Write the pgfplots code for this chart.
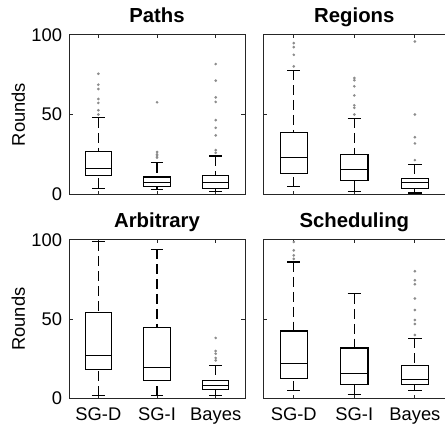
\documentclass[border=0pt]{standalone}
\usepackage{pgfplots}
\pgfplotsset{compat=1.18}
\usepgfplotslibrary{statistics}
\usepackage{fontspec}
\setmainfont{Liberation Sans}

\pgfplotsset{
  rbox/.style={
    scale only axis, height=80pt,
    xmin=0.5, xmax=3.5, ymin=0, ymax=100,
    xtick={1,2,3}, ytick={0,50,100},
    tick align=inside, major tick length=1.8pt,
    axis line style={black!85, line width=0.5pt},
    every tick/.style={black!85, line width=0.5pt},
    tick label style={font=\fontsize{9.2}{11}\selectfont},
    /pgf/number format/assume math mode=true,
    title style={anchor=base, font=\fontsize{10.2}{12}\selectfont\bfseries},
    xticklabel style={anchor=base, yshift=-11.2pt},
    yticklabel style={inner sep=0pt, xshift=-3.3pt},
    ylabel style={font=\fontsize{9.2}{11}\selectfont, at={(axis description cs:-0.2507,0.5)}, anchor=base},
    boxplot/draw direction=y,
    boxplot/draw/lower whisker/.code={
      \draw[dash pattern=on 5pt off 2.5pt]
        (boxplot cs:\pgfplotsboxplotvalue{lower whisker},0) --
        (boxplot cs:\pgfplotsboxplotvalue{lower quartile},0);
      \draw (boxplot whisker cs:\pgfplotsboxplotvalue{lower whisker},0) --
        (boxplot whisker cs:\pgfplotsboxplotvalue{lower whisker},1);
    },
    boxplot/draw/upper whisker/.code={
      \draw[dash pattern=on 5pt off 2.5pt]
        (boxplot cs:\pgfplotsboxplotvalue{upper whisker},0) --
        (boxplot cs:\pgfplotsboxplotvalue{upper quartile},0);
      \draw (boxplot whisker cs:\pgfplotsboxplotvalue{upper whisker},0) --
        (boxplot whisker cs:\pgfplotsboxplotvalue{upper whisker},1);
    },
    boxplot/box extend=0.45,
    boxplot/whisker extend=0.22,
  },
  rside/.style={axis y line*=left, yticklabels={}},
  bx/.style={black, line width=0.55pt, mark=*, mark size=0.35pt,
    mark options={draw=black!45, fill=black!45}, boxplot prepared={#1}},
}

\begin{document}
\begin{tikzpicture}
\path (0,0) rectangle (223.5pt,213.5pt);

% Paths
\begin{axis}[rbox, at={(34.65pt,116pt)}, anchor=south west, width=88.35pt,
  title={Paths}, ylabel={Rounds}, xticklabels={}]
\addplot[bx={draw position=1, lower whisker=3.75, lower quartile=11.7, median=16, upper quartile=26.7, upper whisker=47.9}]
  coordinates {(1,50) (1,52.7) (1,57.3) (1,59.8) (1,66) (1,68.75) (1,75.6)};
\addplot[bx={draw position=2, lower whisker=2.7, lower quartile=4.8, median=7.5, upper quartile=10.8, upper whisker=19.8}]
  coordinates {(2,23) (2,24) (2,25) (2,26.5) (2,57.7)};
\addplot[bx={draw position=3, lower whisker=1.7, lower quartile=3.75, median=7.1, upper quartile=11.7, upper whisker=24}]
  coordinates {(3,26) (3,27.7) (3,36.9) (3,41.7) (3,46.5) (3,57.9) (3,60.8) (3,71.25) (3,81.7)};
\end{axis}

% Regions
\begin{axis}[rbox, rside, at={(132.25pt,116pt)}, anchor=south west, width=91.2pt,
  title={Regions}, xticklabels={}]
\addplot[bx={draw position=1, lower whisker=4.8, lower quartile=12.9, median=22.9, upper quartile=38.75, upper whisker=77.9}]
  coordinates {(1,80.2) (1,87.5) (1,92.3) (1,94.8)};
\addplot[bx={draw position=2, lower whisker=1.9, lower quartile=8.5, median=15.8, upper quartile=24.8, upper whisker=47.8}]
  coordinates {(2,50) (2,54.2) (2,55.8) (2,62) (2,67.7) (2,71.5) (2,72.9)};
\addplot[bx={draw position=3, lower whisker=0.8, lower quartile=3.75, median=7.1, upper quartile=9.8, upper whisker=18.9}]
  coordinates {(3,21.4) (3,31.9) (3,35.8) (3,50) (3,95.8)};
\end{axis}

% Arbitrary
\begin{axis}[rbox, at={(34.65pt,13.5pt)}, anchor=south west, width=88.35pt, height=79.65pt,
  title={Arbitrary}, ylabel={Rounds}, xticklabels={SG-D,SG-I,Bayes}]
\addplot[bx={draw position=1, lower whisker=1.7, lower quartile=18, median=26.8, upper quartile=54.2, upper whisker=99}]
  coordinates {};
\addplot[bx={draw position=2, lower whisker=1.7, lower quartile=11.1, median=19.7, upper quartile=44.6, upper whisker=94.1}]
  coordinates {};
\addplot[bx={draw position=3, lower whisker=1.7, lower quartile=5.9, median=8.4, upper quartile=11.5, upper whisker=20.8}]
  coordinates {(3,24) (3,25.5) (3,28.2) (3,29.9) (3,38.1)};
\end{axis}

% Scheduling
\begin{axis}[rbox, rside, at={(132.25pt,13.5pt)}, anchor=south west, width=91.2pt, height=79.65pt,
  title={Scheduling}, xticklabels={SG-D,SG-I,Bayes}]
\addplot[bx={draw position=1, lower whisker=4.8, lower quartile=12.3, median=21.8, upper quartile=42.5, upper whisker=86}]
  coordinates {(1,88) (1,90.2) (1,93.3) (1,98.6)};
\addplot[bx={draw position=2, lower whisker=2.7, lower quartile=8.6, median=15.9, upper quartile=31.8, upper whisker=65.9}]
  coordinates {};
\addplot[bx={draw position=3, lower whisker=4.8, lower quartile=8.6, median=11.7, upper quartile=20.5, upper whisker=37.9}]
  coordinates {(3,40) (3,46.9) (3,49.4) (3,55.7) (3,63) (3,72) (3,74.5) (3,80.2)};
\end{axis}
\end{tikzpicture}
\end{document}
